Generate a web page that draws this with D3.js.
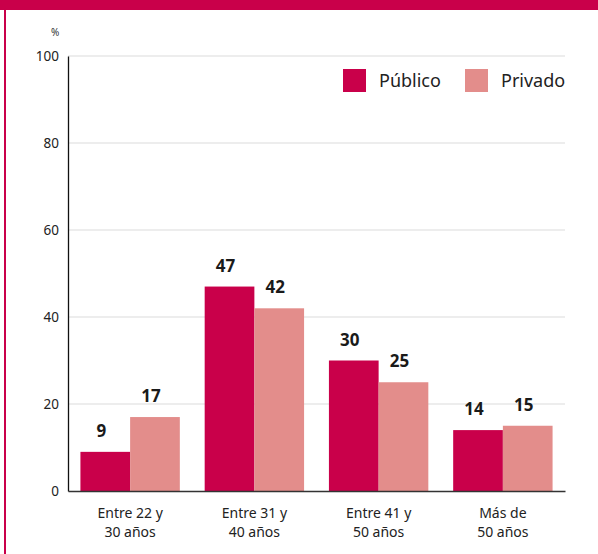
<!DOCTYPE html>
<html>
<head>
<meta charset="utf-8">
<script src="https://cdn.jsdelivr.net/npm/d3@7"></script>
<style>
  body { margin: 0; background: #fff; }
  svg { display: block; font-family: "Noto Sans", "Open Sans", sans-serif; }
</style>
</head>
<body>
<div id="chart"></div>
<script>
// data
const categories = [["Entre 22 y", "30 años"], ["Entre 31 y", "40 años"], ["Entre 41 y", "50 años"], ["Más de", "50 años"]];
const seriesNames = ["Público", "Privado"];
const publico = [9, 47, 30, 14];
const privado = [17, 42, 25, 15];
const yTicks = [0, 20, 40, 60, 80, 100];
const colors = ["#c9004a", "#e38d8b"];

const width = 598, height = 554;
const margin = { top: 56, right: 33, bottom: 63, left: 68 };

let svg = d3.select("#chart").append("svg")
    .attr("width", width)
    .attr("height", height);

// frame
svg.append("rect").attr("x", 0).attr("y", 0).attr("width", width).attr("height", 10).attr("fill", "#c9004a");
svg.append("rect").attr("x", 4).attr("y", 0).attr("width", 2).attr("height", height).attr("fill", "#c9004a");

let x = d3.scaleBand()
    .domain(categories.map((d, i) => i))
    .range([margin.left, width - margin.right])
    .paddingInner(0.2)
    .paddingOuter(0.1);

let x1 = d3.scaleBand().domain(seriesNames).range([0, x.bandwidth()]);

let y = d3.scaleLinear().domain([0, 100]).range([height - margin.bottom, margin.top]);

// gridlines
svg.append("g")
    .selectAll("line")
    .data(yTicks.filter(d => d > 0))
    .enter().append("line")
    .attr("x1", margin.left).attr("x2", width - margin.right)
    .attr("y1", d => y(d)).attr("y2", d => y(d))
    .attr("stroke", "#dcdcdc").attr("stroke-width", 1.2);

// y axis
let yAxis = svg.append("g")
    .attr("transform", "translate(" + margin.left + ",0)")
    .call(d3.axisLeft(y).tickValues(yTicks).tickSize(0).tickPadding(9));
yAxis.select(".domain").attr("stroke", "#111").attr("stroke-width", 1.3);
yAxis.selectAll("text").attr("font-size", 13.5).attr("fill", "#222").attr("font-family", "'Noto Sans', sans-serif");

svg.append("text")
    .attr("x", 51).attr("y", 36)
    .attr("font-size", 10).attr("fill", "#333")
    .text("%");

// bars
let data = categories.map((c, i) => ({ i: i, values: [publico[i], privado[i]] }));
let groups = svg.append("g").selectAll("g")
    .data(data)
    .enter().append("g")
    .attr("transform", d => "translate(" + x(d.i) + ",0)");

groups.selectAll("rect")
    .data(d => d.values.map((v, k) => ({ key: seriesNames[k], value: v, k: k })))
    .enter().append("rect")
    .attr("x", d => x1(d.key))
    .attr("y", d => y(d.value))
    .attr("width", x1.bandwidth())
    .attr("height", d => y(0) - y(d.value))
    .attr("fill", d => colors[d.k]);

groups.selectAll(".val")
    .data(d => d.values.map((v, k) => ({ key: seriesNames[k], value: v })))
    .enter().append("text")
    .attr("class", "val")
    .attr("x", d => x1(d.key) + x1.bandwidth() / 2 - 4)
    .attr("y", d => y(d.value) - 15)
    .attr("text-anchor", "middle")
    .attr("font-size", 17).attr("font-weight", "bold").attr("fill", "#1a1a1a")
    .text(d => d.value);

// x axis
let xAxis = svg.append("g")
    .attr("transform", "translate(0," + y(0) + ")")
    .call(d3.axisBottom(x).tickSize(0).tickFormat(""));
xAxis.select(".domain").attr("stroke", "#333").attr("stroke-width", 1.3);

// category labels, one text per line
let labelGroups = svg.append("g").selectAll("g")
    .data(categories)
    .enter().append("g")
    .attr("transform", (d, i) => "translate(" + (x(i) + x.bandwidth() / 2) + ",0)");
labelGroups.selectAll("text")
    .data(d => d)
    .enter().append("text")
    .attr("y", (d, i) => 518 + i * 19)
    .attr("text-anchor", "middle")
    .attr("font-size", 14).attr("fill", "#222")
    .text(d => d);

// legend
let legend = svg.append("g").selectAll("g")
    .data(seriesNames)
    .enter().append("g")
    .attr("transform", (d, i) => "translate(" + [343, 465][i] + ",69)");
legend.append("rect")
    .attr("width", 23).attr("height", 23)
    .attr("fill", (d, i) => colors[i]);
legend.append("text")
    .attr("x", 36).attr("y", 18)
    .attr("font-size", 18).attr("fill", "#222")
    .text(d => d);
</script>
</body>
</html>
